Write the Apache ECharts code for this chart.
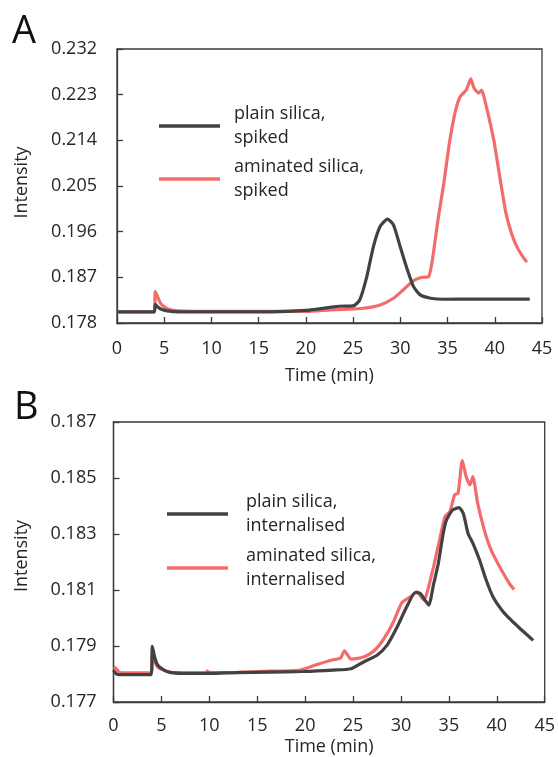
<!DOCTYPE html>
<html>
<head>
<meta charset="utf-8">
<script src="https://cdn.jsdelivr.net/npm/echarts@6/dist/echarts.min.js"></script>
<style>
html,body{margin:0;padding:0;background:#fff;}
#chart{width:558px;height:757px;}
</style>
</head>
<body>
<div id="chart"></div>
<script>
// ---- Data (time in min, intensity) ----
const xTicks = [0, 5, 10, 15, 20, 25, 30, 35, 40, 45];
const yTicksA = [0.178, 0.187, 0.196, 0.205, 0.214, 0.223, 0.232];
const yTicksB = [0.177, 0.179, 0.181, 0.183, 0.185, 0.187];

const namesA = ['plain silica,\nspiked', 'aminated silica,\nspiked'];
const namesB = ['plain silica,\ninternalised', 'aminated silica,\ninternalised'];

const plainSpiked = [
  [0,0.1802],[3.95,0.1802],[4.05,0.1817],[4.3,0.1812],[4.7,0.1807],[5.3,0.1804],[6.5,0.1802],
  [10,0.1802],[15,0.1802],[18,0.1803],[20,0.1805],[21,0.1807],[22.6,0.1811],[23.5,0.1813],
  [25,0.18136],[25.7,0.18254],[26.45,0.18714],[27.15,0.19306],[27.86,0.197],[28.64,0.19847],
  [29.27,0.19734],[29.98,0.19306],[30.69,0.1888],[31.4,0.18517],[32.1,0.18353],[33.2,0.18288],
  [34.6,0.18268],[38,0.1827],[43.7,0.1827]
];
const aminatedSpiked = [
  [0,0.1802],[3.95,0.1802],[4.05,0.1842],[4.3,0.1832],[4.6,0.1819],[5.0,0.1812],[5.5,0.1807],
  [6.5,0.1804],[10,0.1803],[20,0.1803],[22.6,0.1806],[24,0.1807],[26.1,0.1809],[27.86,0.18155],
  [29.27,0.18288],[30.3,0.18451],[31.4,0.18635],[32.3,0.18701],[33.0,0.18714],[33.4,0.1905],
  [34.0,0.1985],[34.6,0.2055],[35.2,0.2135],[35.8,0.2195],[36.3,0.2225],[37.0,0.2240],
  [37.46,0.2261],[37.8,0.2243],[38.3,0.2233],[38.6,0.2239],[39.0,0.2215],[39.9,0.2140],
  [40.6,0.2060],[41.2,0.1995],[41.8,0.1955],[42.4,0.1928],[43.0,0.1910],[43.4,0.1900]
];
const plainInternalised = [
  [0,0.17813],[0.3,0.1780],[0.6,0.17798],[3.93,0.17798],[4.05,0.17899],[4.3,0.1786],[4.62,0.17831],
  [5.31,0.17813],[6.0,0.17805],[7.7,0.17802],[10,0.17802],[12.9,0.17805],[16.3,0.17807],
  [19.8,0.17809],[22.9,0.17814],[24.8,0.17819],[26.1,0.17843],[27.5,0.17867],[28.55,0.17903],
  [29.6,0.17968],[30.6,0.1804],[31.5,0.18091],[32.0,0.18088],[32.5,0.18064],[32.9,0.18046],
  [33.4,0.1812],[33.9,0.18195],[34.4,0.1830],[34.75,0.1835],[35.4,0.18386],[36.05,0.18394],
  [36.5,0.18374],[37.0,0.18302],[37.5,0.18267],[38.2,0.18207],[38.9,0.18135],[39.6,0.18076],
  [40.6,0.18025],[41.5,0.17992],[42.5,0.1796],[43.8,0.1792]
];
const aminatedInternalised = [
  [0,0.17825],[0.2,0.17822],[0.5,0.1781],[0.8,0.17804],[3.93,0.17804],[4.05,0.17875],[4.3,0.17845],
  [4.62,0.17825],[5.31,0.17813],[6.0,0.17806],[9.6,0.17804],[9.8,0.1781],[10.0,0.17805],
  [12.9,0.17806],[16.3,0.1781],[19.3,0.17813],[21.0,0.17831],[22.7,0.17849],[23.7,0.17857],
  [24.1,0.17883],[24.8,0.17853],[26.1,0.17861],[27.2,0.17883],[28.2,0.17925],[29.2,0.17985],
  [30.1,0.18055],[31.0,0.18076],[31.65,0.18093],[32.4,0.18064],[32.7,0.18088],[33.4,0.18183],
  [34.1,0.1829],[34.6,0.18362],[35.1,0.1838],[35.6,0.1844],[35.96,0.18446],[36.4,0.18562],
  [36.8,0.18505],[37.2,0.18475],[37.5,0.18505],[38.0,0.1841],[38.7,0.18314],[39.4,0.18243],
  [40.3,0.18183],[41.3,0.18124],[41.8,0.18102]
];

// ---- Styling ----
const FONT = 'Open Sans';
const BLACK = '#424242';
const RED = '#f26c6c';
const AXIS = '#3a3a3a';
const TXT = '#262626';

function xAxisCfg(gridIndex, margin, nameGap) {
  return {
    gridIndex, type: 'value', min: xTicks[0], max: xTicks[xTicks.length - 1],
    interval: xTicks[1] - xTicks[0],
    name: 'Time (min)', nameLocation: 'middle', nameGap,
    nameTextStyle: { fontFamily: FONT, fontSize: 18, color: TXT },
    axisLine: { show: true, lineStyle: { color: AXIS, width: 1.3 } },
    axisTick: { show: true, inside: true, length: 6, lineStyle: { color: AXIS, width: 1.3 } },
    axisLabel: { fontFamily: FONT, fontSize: 18, color: TXT, margin, showMinLabel: true, showMaxLabel: true },
    splitLine: { show: false }
  };
}
function yAxisCfg(gridIndex, ticks, margin) {
  return {
    gridIndex, type: 'value', min: ticks[0], max: ticks[ticks.length - 1],
    interval: +(ticks[1] - ticks[0]).toFixed(3),
    axisLine: { show: true, lineStyle: { color: AXIS, width: 1.3 } },
    axisTick: { show: true, inside: true, length: 6, lineStyle: { color: AXIS, width: 1.3 } },
    axisLabel: { fontFamily: FONT, fontSize: 18, color: TXT, margin,
      formatter: v => v.toFixed(3) },
    splitLine: { show: false }
  };
}
function seriesCfg(name, data, color, idx) {
  return {
    name, type: 'line', xAxisIndex: idx, yAxisIndex: idx, data,
    showSymbol: false, symbol: 'none', smooth: 0.2,
    lineStyle: { color, width: 3.2 }, itemStyle: { color },
    z: color === BLACK ? 3 : 2, animation: false
  };
}
function legendCfg(name, left, top, padLeft) {
  return {
    data: [name], left, top, padding: 0, orient: 'vertical',
    icon: 'rect', itemWidth: 61, itemHeight: 3.5, selectedMode: false,
    textStyle: { fontFamily: FONT, fontSize: 18, color: TXT, lineHeight: 24, padding: [12, 0, 0, padLeft] }
  };
}

const chart = echarts.init(document.getElementById('chart'), null, { renderer: 'canvas' });
chart.setOption({
  backgroundColor: '#ffffff',
  animation: false,
  grid: [
    { left: 117, top: 49, width: 425, height: 274, show: true, borderColor: AXIS, borderWidth: 1.3 },
    { left: 113.5, top: 422, width: 435.5, height: 280, show: true, borderColor: AXIS, borderWidth: 1.3 }
  ],
  xAxis: [xAxisCfg(0, 17, 44), xAxisCfg(1, 15, 36)],
  yAxis: [yAxisCfg(0, yTicksA, 20), yAxisCfg(1, yTicksB, 17)],
  legend: [
    legendCfg(namesA[0], 159, 96, 9),
    legendCfg(namesA[1], 159, 149, 9),
    legendCfg(namesB[0], 167, 484, 13),
    legendCfg(namesB[1], 167, 538, 13)
  ],
  series: [
    seriesCfg(namesA[0], plainSpiked, BLACK, 0),
    seriesCfg(namesA[1], aminatedSpiked, RED, 0),
    seriesCfg(namesB[0], plainInternalised, BLACK, 1),
    seriesCfg(namesB[1], aminatedInternalised, RED, 1)
  ],
  graphic: [
    { type: 'text', left: 12, top: 13, style: { text: 'A', fontFamily: FONT, fontSize: 38, fill: '#111' } },
    { type: 'text', left: 14, top: 389, style: { text: 'B', fontFamily: FONT, fontSize: 38, fill: '#111' } },
    { type: 'text', x: 21.5, y: 182.5, rotation: Math.PI / 2,
      style: { text: 'Intensity', fontFamily: FONT, fontSize: 18, fill: TXT, align: 'center', verticalAlign: 'middle' } },
    { type: 'text', x: 21.5, y: 556, rotation: Math.PI / 2,
      style: { text: 'Intensity', fontFamily: FONT, fontSize: 18, fill: TXT, align: 'center', verticalAlign: 'middle' } }
  ]
});
</script>
</body>
</html>
